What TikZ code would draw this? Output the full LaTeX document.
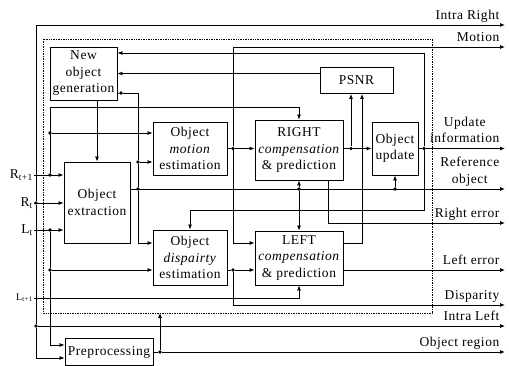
\documentclass[tikz,border=0pt]{standalone}
\usepackage{fontspec}
\setmainfont{Liberation Serif}[LetterSpace=4]
\usetikzlibrary{arrows.meta, positioning, calc}

\begin{document}
\begin{tikzpicture}[
  x=1pt, y=-1pt,
  every node/.style={font=\fontsize{13.5}{16.5}\selectfont},
  block/.style={rectangle, draw, line width=0.9pt, align=center, inner sep=1pt},
  wire/.style={line width=0.8pt},
  arrow/.style={wire, -{Latex[length=5pt, width=4pt]}},
  junction/.style={circle, fill, inner sep=0pt, minimum size=3.6pt},
  inlabel/.style={anchor=east, inner sep=1pt},
  outlabel/.style={anchor=south east, inner sep=0.5pt, align=center, xshift=-5pt, execute at end node=\strut},
  codec/.style={densely dotted, line width=0.7pt}
]
\useasboundingbox (0,0) rectangle (509,366);

% === BLOCKS ===
\node[block, minimum width=67pt, minimum height=53pt] (newobj) at (83.5,73.5) {New\\object\\generation};
\node[block, minimum width=66pt, minimum height=81pt] (extract) at (97,202.5) {Object\\extraction};
\node[block, minimum width=74pt, minimum height=53pt] (motion) at (190,148.5) {Object\\\textit{motion}\\estimation};
\node[block, minimum width=74pt, minimum height=55pt] (disp) at (190,257.5) {Object\\\textit{dispairty}\\estimation};
\node[block, minimum width=88pt, minimum height=60pt] (right) at (299,150) {RIGHT\\\textit{compensation}\\\& prediction};
\node[block, minimum width=88pt, minimum height=54pt] (left) at (299,258) {LEFT\\\textit{compensation}\\\& prediction};
\node[block, minimum width=73pt, minimum height=26pt] (psnr) at (356.5,80.5) {PSNR};
\node[block, minimum width=46pt, minimum height=53pt] (update) at (395,148.5) {Object\\update};
\node[block, minimum width=88pt, minimum height=27pt] (prep) at (109,352) {Preprocessing};

% dotted codec frame
\draw[codec] (43,39) rectangle (432,313);

% === INPUTS ===
\node[inlabel] (inR1) at (34,175) {R\textsubscript{t+1}};
\node[inlabel] (inR0) at (34,203) {R\textsubscript{t}};
\node[inlabel] (inL0) at (34,230) {L\textsubscript{t}};
\node[inlabel, font=\fontsize{10}{12}\selectfont] (inL1) at (34,298) {L\textsubscript{t+1}};

\node[junction] (jR1) at (50,175) {};
\node[junction] (jR0) at (36,203) {};
\node[junction] (jL0) at (50,230) {};

\draw[arrow] (inR1.east) -- (extract.west |- inR1.east);
\draw[arrow] (inR0.east) -- (extract.west |- inR0.east);
\draw[arrow] (inL0.east) -- (extract.west |- inL0.east);
\draw[arrow] (inL1.east) -| (left.south);

% === OUTPUTS ===
\coordinate (intraR) at (505,25);
\coordinate (motionO) at (505,47);
\coordinate (updateO) at (505,148.5);
\coordinate (refO) at (505,189);
\coordinate (rerrO) at (505,223);
\coordinate (lerrO) at (505,270);
\coordinate (dispO) at (505,305);
\coordinate (intraL) at (505,326);
\coordinate (regionO) at (505,352);

\node[outlabel] (lIntraR) at (intraR) {Intra Right};
\node[outlabel] (lMotion) at (motionO) {Motion};
\node[outlabel] (lUpdate) at (updateO) {Update\\information};
\node[outlabel] (lRef) at (refO) {Reference\\object};
\node[outlabel] (lRerr) at (rerrO) {Right error};
\node[outlabel] (lLerr) at (lerrO) {Left error};
\node[outlabel] (lDisp) at (dispO) {Disparity};
\node[outlabel] (lIntraL) at (intraL) {Intra Left};
\node[outlabel] (lRegion) at (regionO) {Object region};

% R_t bus: intra right, intra left, preprocessing
\node[junction] (jIL) at (36,326) {};
\draw[arrow] (jR0) |- (intraR);
\draw[wire] (jR0) -- (jIL);
\draw[arrow] (jIL) -- (intraL);
\draw[arrow] (jIL) |- ([yshift=-6pt]prep.west);

% R_{t+1} to motion estimation and RIGHT
\coordinate (bendR) at (50,107);
\node[junction] (jMe1) at (50,133) {};
\draw[arrow] (jR1) -- (bendR) -| (right.north);
\draw[arrow] (jMe1) -- (motion.west |- jMe1);

% L_t to disparity estimation and preprocessing
\node[junction] (jDe1) at (50,270) {};
\draw[wire] (jL0) -- (jDe1);
\draw[arrow] (jDe1) -- (disp.west |- jDe1);
\draw[arrow] (jDe1) |- ([yshift=7pt]prep.west);

% === OBJECT MASKS ===
\node[junction] (jNg) at (121,93) {};
\node[junction] (jMe2) at (138,162) {};
\node[junction] (jEx) at (138,189) {};
\draw[arrow] (newobj.south -| extract.north) -- (extract.north);
\draw[wire] (newobj.east |- jNg) -- (jNg);
\draw[wire] (jNg) -| (jMe2);
\draw[arrow] (jMe2) -- (motion.west |- jMe2);
\draw[wire] (jMe2) -- (jEx);
\draw[arrow] (jEx) |- ([yshift=14.5pt]disp.west);
\draw[arrow] (extract.east |- jEx) -- (refO);

\node[junction] (jRL) at (299,189) {};
\node[junction] (jUd) at (395,189) {};
\draw[arrow] (jRL) -- (right.south);
\draw[arrow] (jRL) -- (left.north);
\draw[arrow] (jUd) -- (update.south);

% motion vectors
\node[junction] (jMv) at (233,148.5) {};
\draw[wire] (motion.east) -- (jMv);
\draw[arrow] (jMv) -- (right.west |- jMv);
\draw[arrow] (jMv) |- (motionO);
\draw[arrow] (jMv) |- ([yshift=15pt]left.west);

% disparity vectors
\node[junction] (jDv) at (233,270) {};
\draw[wire] ([yshift=-12.5pt]disp.east) -- (jDv);
\draw[arrow] (jDv) -- (left.west |- jDv);
\draw[arrow] (jDv) |- (dispO);

% === RIGHT / LEFT OUTPUTS ===
\node[junction] (jPs) at (351,148.5) {};
\draw[wire] (right.east |- jPs) -- (jPs);
\draw[arrow] (jPs) -- (update.west |- jPs);
\draw[arrow] (jPs) -- (psnr.south -| jPs);
\draw[arrow] ([xshift=29pt]right.south) |- (rerrO);
\draw[arrow] ([yshift=15pt]left.east) -| ([xshift=5.5pt]psnr.south);
\draw[arrow] ([yshift=-12pt]left.east) -- (lerrO);
\draw[arrow] ([yshift=7pt]psnr.west) -- (newobj.east);

% object update feedback
\node[junction] (jUo) at (424,148.5) {};
\coordinate (bendD) at (424,210);
\draw[wire] (update.east) -- (jUo);
\draw[arrow] (jUo) -- (updateO);
\draw[arrow] (jUo) |- ([yshift=20.5pt]newobj.east);
\draw[arrow] (jUo) -- (bendD) -| (disp.north);

% preprocessing
\node[junction] (jPr) at (160,352) {};
\coordinate (codecIn) at (160,313);
\draw[wire] (prep.east) -- (jPr);
\draw[arrow] (jPr) -- (regionO);
\draw[arrow] (jPr) -- (codecIn);

\end{tikzpicture}
\end{document}
